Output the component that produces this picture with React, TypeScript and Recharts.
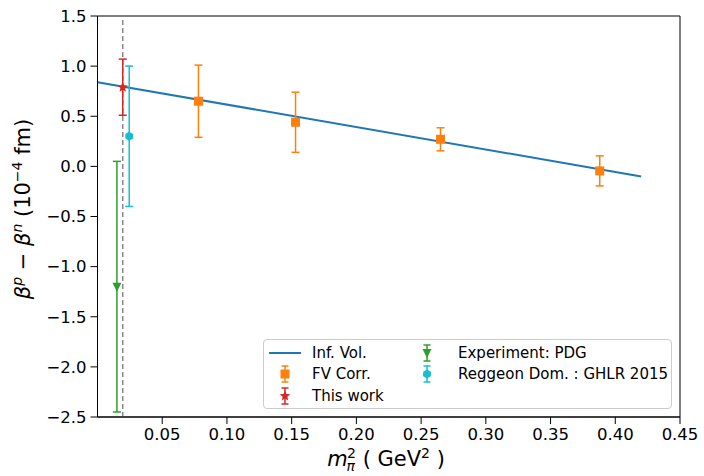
import {
  ComposedChart, Line, Scatter, XAxis, YAxis, ErrorBar, ReferenceLine, ReferenceArea, Legend,
} from 'recharts'

// Inf. Vol. fit line
const fitX = [0, 0.42]
const fitY = [0.84, -0.1]

// FV Corr. lattice points
const fvX = [0.078, 0.153, 0.265, 0.388]
const fvY = [0.65, 0.44, 0.27, -0.045]
const fvErr = [0.36, 0.3, 0.115, 0.15]

// This work
const workX = [0.0195]
const workY = [0.79]
const workErr = [0.28]

// Experiment: PDG
const pdgX = [0.015]
const pdgY = [-1.2]
const pdgErr = [1.25]

// Reggeon Dom. : GHLR 2015
const regX = [0.0245]
const regY = [0.3]
const regErr = [0.7]

const xTicks = [0.05, 0.1, 0.15, 0.2, 0.25, 0.3, 0.35, 0.4, 0.45]
const yTicks = [-2.5, -2, -1.5, -1, -0.5, 0, 0.5, 1, 1.5]
const physPoint = 0.0195

const C = {
  blue: '#1f77b4', orange: '#ff7f0e', green: '#2ca02c', red: '#d62728', cyan: '#17becf',
}
const FONT = '"DejaVu Sans", sans-serif'

const toPts = (xs: number[], ys: number[], es?: number[]) =>
  xs.map((x, i) => ({ x, y: ys[i], err: es ? es[i] : 0 }))

const fitData = toPts(fitX, fitY)
const fvData = toPts(fvX, fvY, fvErr)
const workData = toPts(workX, workY, workErr)
const pdgData = toPts(pdgX, pdgY, pdgErr)
const regData = toPts(regX, regY, regErr)

const fmtY = (v: number) => (v < 0 ? '\u2212' + Math.abs(v).toFixed(1) : v.toFixed(1))

function starPath(cx: number, cy: number, r: number) {
  const pts: string[] = []
  for (let i = 0; i < 10; i++) {
    const rr = i % 2 === 0 ? r : r * 0.45
    const a = -Math.PI / 2 + (i * Math.PI) / 5
    pts.push(`${cx + rr * Math.cos(a)},${cy + rr * Math.sin(a)}`)
  }
  return 'M' + pts.join('L') + 'Z'
}
function hexPath(cx: number, cy: number, r: number) {
  const pts: string[] = []
  for (let i = 0; i < 6; i++) {
    const a = -Math.PI / 2 + (i * Math.PI) / 3
    pts.push(`${cx + r * Math.cos(a)},${cy + r * Math.sin(a)}`)
  }
  return 'M' + pts.join('L') + 'Z'
}

const Square = (p: any) => <rect x={p.cx - 4.5} y={p.cy - 4.5} width={9} height={9} fill={C.orange} />
const Star = (p: any) => <path d={starPath(p.cx, p.cy, 5.5)} fill={C.red} />
const TriDown = (p: any) => (
  <path d={`M${p.cx - 4.5},${p.cy - 4}L${p.cx + 4.5},${p.cy - 4}L${p.cx},${p.cy + 5}Z`} fill={C.green} />
)
const Hex = (p: any) => <path d={hexPath(p.cx, p.cy, 4.5)} fill={C.cyan} />

function LegendMarker({ kind, color }: { kind: string; color: string }) {
  if (kind === 'line') {
    return (
      <svg width={32} height={22} style={{ display: 'block' }}>
        <line x1={0} y1={11} x2={32} y2={11} stroke={color} strokeWidth={2} />
      </svg>
    )
  }
  const shape =
    kind === 'square' ? <rect x={11.5} y={6.5} width={9} height={9} fill={color} /> :
    kind === 'star' ? <path d={starPath(16, 11, 5.5)} fill={color} /> :
    kind === 'tri' ? <path d="M11.5,7L20.5,7L16,16Z" fill={color} /> :
    <path d={hexPath(16, 11, 4.5)} fill={color} />
  return (
    <svg width={32} height={22} style={{ display: 'block' }}>
      <line x1={16} y1={3} x2={16} y2={19} stroke={color} strokeWidth={1.5} />
      <line x1={12.5} y1={3} x2={19.5} y2={3} stroke={color} strokeWidth={1.5} />
      <line x1={12.5} y1={19} x2={19.5} y2={19} stroke={color} strokeWidth={1.5} />
      {shape}
    </svg>
  )
}

// legend entries: column, row
const legendItems = [
  { kind: 'line', color: C.blue, label: 'Inf. Vol.', col: 0, row: 0 },
  { kind: 'square', color: C.orange, label: 'FV Corr.', col: 0, row: 1 },
  { kind: 'star', color: C.red, label: 'This work', col: 0, row: 2 },
  { kind: 'tri', color: C.green, label: 'Experiment: PDG', col: 1, row: 0 },
  { kind: 'hex', color: C.cyan, label: 'Reggeon Dom. : GHLR 2015', col: 1, row: 1 },
]

function LegendBox() {
  const colHandle = [5, 147]
  const colText = [48, 194]
  return (
    <div
      style={{
        position: 'relative', boxSizing: 'border-box', width: 409, height: 70, border: '1px solid #cccccc',
        borderRadius: 4, background: 'rgba(255,255,255,0.8)', fontFamily: FONT, fontSize: 15, color: '#000',
      }}
    >
      {legendItems.map(it => (
        <div key={it.label}>
          <div style={{ position: 'absolute', left: colHandle[it.col], top: 1.5 + it.row * 21.7 }}>
            <LegendMarker kind={it.kind} color={it.color} />
          </div>
          <span
            style={{
              position: 'absolute', left: colText[it.col], top: 2.5 + it.row * 21.7, whiteSpace: 'nowrap',
              lineHeight: '20px',
            }}
          >
            {it.label}
          </span>
        </div>
      ))}
    </div>
  )
}

const YLabel = () => (
  <text
    x={30}
    y={209}
    transform="rotate(-90 30 209)"
    textAnchor="middle"
    fontFamily={FONT}
    fontSize={21}
    fill="#000"
  >
    <tspan fontStyle="italic">β</tspan>
    <tspan fontSize={14} fontStyle="italic" dy={-8}>p</tspan>
    <tspan dy={8}> − </tspan>
    <tspan fontStyle="italic">β</tspan>
    <tspan fontSize={14} fontStyle="italic" dy={-8}>n</tspan>
    <tspan dy={8}> (10</tspan>
    <tspan fontSize={14} dy={-8}>−4</tspan>
    <tspan dy={8}> fm)</tspan>
  </text>
)

const XLabel = () => (
  <text x={386} y={466} textAnchor="middle" fontFamily={FONT} fontSize={21} fill="#000">
    <tspan fontStyle="italic">m</tspan>
    <tspan fontSize={14} fontStyle="italic" dy={5} dx={-1}>π</tspan>
    <tspan fontSize={14} dy={-13} dx={-8}>2</tspan>
    <tspan dy={8}> ( GeV</tspan>
    <tspan fontSize={14} dy={-8}>2</tspan>
    <tspan dy={8}> )</tspan>
  </text>
)

export default function App() {
  const tickStyle = { fontFamily: FONT, fontSize: 16.5, fill: '#000' }
  return (
    <div style={{ position: 'absolute', left: 0, top: 0, background: '#fff' }}>
      <ComposedChart width={704} height={476} margin={{ top: 16, right: 24, bottom: 0, left: 0 }}>
        <XAxis
          dataKey="x"
          type="number"
          domain={[0, 0.45]}
          ticks={xTicks}
          allowDataOverflow
          tickFormatter={(v: number) => v.toFixed(2)}
          tick={tickStyle}
          tickSize={7}
          tickMargin={4}
          height={59}
          stroke="#000"
          interval={0}
        />
        <YAxis
          type="number"
          domain={[-2.5, 1.5]}
          ticks={yTicks}
          allowDataOverflow
          tickFormatter={fmtY}
          tick={tickStyle}
          tickSize={7}
          tickMargin={4}
          width={97.5}
          stroke="#000"
          interval={0}
        />
        <ReferenceArea x1={0} x2={0.45} y1={-2.5} y2={1.5} fill="none" stroke="#000" strokeWidth={1} />
        <ReferenceLine x={physPoint} stroke="#888" strokeWidth={1.5} strokeDasharray="5 3" />
        <Line data={fitData} dataKey="y" stroke={C.blue} strokeWidth={2} dot={false} isAnimationActive={false} />
        <Scatter data={fvData} dataKey="y" shape={Square} isAnimationActive={false}>
          <ErrorBar dataKey="err" direction="y" width={4} stroke={C.orange} strokeWidth={1.5} />
        </Scatter>
        <Scatter data={pdgData} dataKey="y" shape={TriDown} isAnimationActive={false}>
          <ErrorBar dataKey="err" direction="y" width={4} stroke={C.green} strokeWidth={1.5} />
        </Scatter>
        <Scatter data={regData} dataKey="y" shape={Hex} isAnimationActive={false}>
          <ErrorBar dataKey="err" direction="y" width={4} stroke={C.cyan} strokeWidth={1.5} />
        </Scatter>
        <Scatter data={workData} dataKey="y" shape={Star} isAnimationActive={false}>
          <ErrorBar dataKey="err" direction="y" width={4} stroke={C.red} strokeWidth={1.5} />
        </Scatter>
        <Legend
          layout="horizontal"
          verticalAlign="middle"
          align="center"
          wrapperStyle={{ left: 263, top: 339, width: 409, height: 70 }}
          content={() => <LegendBox />}
        />
        <YLabel />
        <XLabel />
      </ComposedChart>
    </div>
  )
}
